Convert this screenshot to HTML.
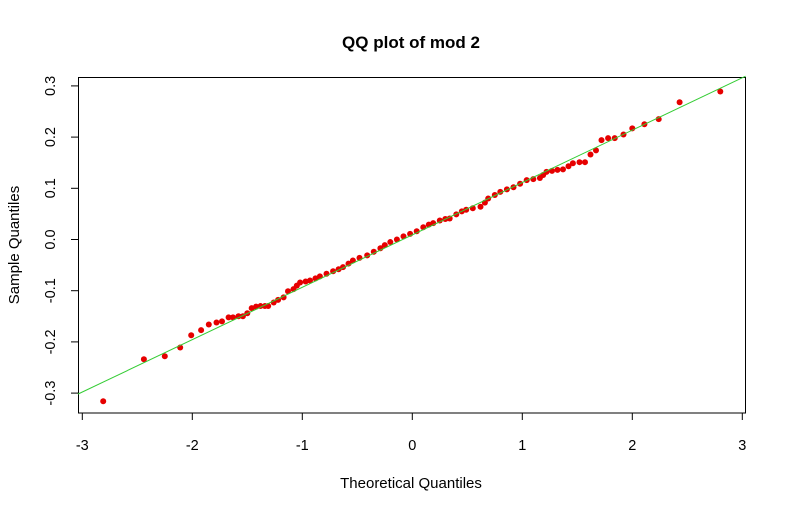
<!DOCTYPE html>
<html><head><meta charset="utf-8"><style>
body{margin:0;background:#fff;}
svg text{font-family:"Liberation Sans",Arial,sans-serif;}
</style></head><body>
<svg id="chart" width="786" height="512" xmlns="http://www.w3.org/2000/svg">
<rect width="786" height="512" fill="#fff"/>
<text x="411" y="48" font-size="17" font-weight="bold" text-anchor="middle">QQ plot of mod 2</text>
<text x="411" y="488" font-size="15" text-anchor="middle">Theoretical Quantiles</text>
<text transform="translate(19,245) rotate(-90)" font-size="15" text-anchor="middle">Sample Quantiles</text>
<rect x="78.5" y="77.5" width="667" height="335.5" fill="none" stroke="#000" stroke-width="1"/>
<g id="xaxis"></g><g id="yaxis"></g><g id="pts"></g><g id="ref"></g>
</svg>
<script>
const theoretical=[-2.81,-2.44,-2.25,-2.11,-2.01,-1.92,-1.85,-1.78,-1.73,-1.67,-1.63,-1.58,-1.54,-1.50,-1.46,-1.42,-1.38,-1.34,-1.31,-1.26,-1.22,-1.17,-1.13,-1.08,-1.05,-1.02,-0.97,-0.93,-0.88,-0.84,-0.78,-0.72,-0.67,-0.63,-0.58,-0.54,-0.48,-0.41,-0.35,-0.29,-0.25,-0.20,-0.14,-0.08,-0.02,0.04,0.10,0.15,0.19,0.25,0.30,0.34,0.40,0.45,0.49,0.55,0.62,0.66,0.69,0.75,0.80,0.86,0.92,0.98,1.04,1.10,1.16,1.19,1.22,1.27,1.32,1.37,1.42,1.46,1.52,1.57,1.62,1.67,1.72,1.78,1.84,1.92,2.00,2.11,2.24,2.43,2.80];
const sample=[-0.316,-0.234,-0.228,-0.211,-0.187,-0.177,-0.166,-0.162,-0.160,-0.152,-0.152,-0.150,-0.150,-0.144,-0.134,-0.131,-0.130,-0.130,-0.130,-0.123,-0.118,-0.113,-0.101,-0.097,-0.090,-0.084,-0.082,-0.080,-0.076,-0.072,-0.067,-0.062,-0.058,-0.054,-0.047,-0.041,-0.036,-0.031,-0.024,-0.017,-0.011,-0.005,0.000,0.006,0.011,0.016,0.024,0.029,0.032,0.037,0.040,0.041,0.049,0.055,0.058,0.061,0.064,0.072,0.080,0.087,0.093,0.098,0.102,0.109,0.116,0.118,0.120,0.126,0.132,0.134,0.136,0.137,0.143,0.149,0.151,0.151,0.166,0.174,0.194,0.198,0.198,0.205,0.217,0.225,0.235,0.268,0.289];
const xTicks=[-3,-2,-1,0,1,2,3];
const yTicks=[-0.3,-0.2,-0.1,0.0,0.1,0.2,0.3];
const lineIntercept=0.009, lineSlope=0.1023;
const NS='http://www.w3.org/2000/svg';
const X=v=>412.3+v*110;
const Y=v=>239.5-v*512;
function mk(tag,attrs,parent){const e=document.createElementNS(NS,tag);for(const k in attrs)e.setAttribute(k,attrs[k]);parent.appendChild(e);return e;}
const xa=document.getElementById('xaxis'),ya=document.getElementById('yaxis');
xTicks.forEach(t=>{
 const l=mk('line',{x1:X(t),x2:X(t),y1:413,y2:420,stroke:'#000'},xa);
 
 
 const tx=mk('text',{x:X(t),y:450,'font-size':14.5,'text-anchor':'middle'},xa);
 tx.textContent=String(t);
 
 
});
yTicks.forEach(t=>{
 const l=mk('line',{x1:71,x2:78,y1:Y(t),y2:Y(t),stroke:'#000'},ya);
 
 
 const tx=mk('text',{transform:`translate(55,${Y(t)}) rotate(-90)`,'font-size':14.5,'text-anchor':'middle'},ya);
 tx.textContent=t.toFixed(1);
 
 
});
const pg=document.getElementById('pts');
theoretical.forEach((t,i)=>{
 const c=mk('circle',{cx:X(t),cy:Y(sample[i]),r:3,fill:'#e60000'},pg);
 
 
});
const ref=mk('line',{x1:X(-3.04),y1:Y(lineIntercept+lineSlope*-3.04),x2:X(3.03),y2:Y(lineIntercept+lineSlope*3.03),stroke:'#33cc33','stroke-width':1},document.getElementById('ref'));


</script>
</body></html>
